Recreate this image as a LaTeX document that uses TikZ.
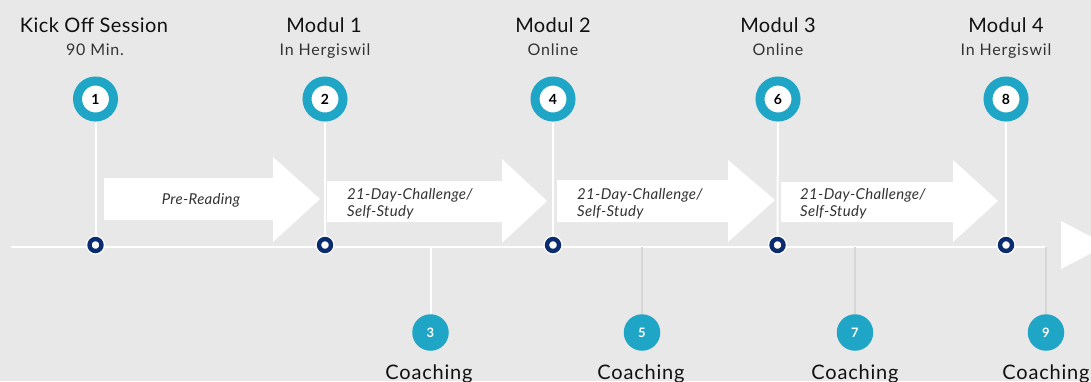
\documentclass[tikz,border=0pt]{standalone}
\usepackage{fontspec}
\setmainfont{Lato}
\definecolor{bgc}{HTML}{E8E8E8}
\definecolor{tealc}{HTML}{1FA5C5}
\definecolor{navyc}{HTML}{0B2C6E}
\definecolor{titlec}{HTML}{111111}
\definecolor{subc}{HTML}{333333}
\definecolor{stemc}{HTML}{D6D6D6}
\pgfdeclarelayer{bgl}
\pgfdeclarelayer{linesl}
\pgfsetlayers{bgl,linesl,main}
\begin{document}
\begin{tikzpicture}[x=1pt,y=-1pt,
  topcirc/.style={circle, draw=tealc, line width=9pt, fill=white, inner sep=0pt,
    minimum size=36pt, font=\fontsize{14}{14}\selectfont\bfseries, text=black},
  ringnode/.style={circle, draw=navyc, line width=4.4pt, fill=white, inner sep=0pt, minimum size=12pt},
  coachcirc/.style={circle, fill=tealc, inner sep=0pt, minimum size=36.5pt,
    font=\fontsize{13}{13}\selectfont\bfseries, text=white},
  title/.style={anchor=base, font=\fontsize{20}{20}\selectfont\addfontfeatures{LetterSpace=2}, text=titlec, inner sep=0pt},
  subtitle/.style={anchor=base, font=\fontsize{16}{16}\selectfont\addfontfeatures{LetterSpace=5}, text=subc, inner sep=0pt},
  coachlbl/.style={anchor=base, font=\fontsize{20}{20}\selectfont\addfontfeatures{LetterSpace=4}, text=titlec, inner sep=0pt},
  arrowtxt/.style={font=\fontsize{15}{17}\selectfont\itshape\addfontfeatures{LetterSpace=2}, text=subc, inner sep=0pt, align=left},
  whiteline/.style={draw=white, line width=2pt},
  stemline/.style={draw=stemc, line width=2pt},
  arrowfill/.style={fill=white}
]
\useasboundingbox (0,0) rectangle (1091,381);
\begin{pgfonlayer}{bgl}
\fill[bgc] (0,0) rectangle (1091,381);
\end{pgfonlayer}
\clip (0,0) rectangle (1091,381);

% titles
\node[title] (h1) at (94,32) {Kick Off Session};
\node[subtitle] (s1) at (95,55) {90 Min.};
\node[title] (h2) at (324,32) {Modul 1};
\node[subtitle] (s2) at (325,55) {In Hergiswil};
\node[title] (h4) at (553,32) {Modul 2};
\node[subtitle] (s4) at (553,55) {Online};
\node[title] (h6) at (778,32) {Modul 3};
\node[subtitle] (s6) at (778,55) {Online};
\node[title] (h8) at (1006,32) {Modul 4};
\node[subtitle] (s8) at (1006,55) {In Hergiswil};

% top circles
\node[topcirc] (t1) at (95.5,99) {1};
\node[topcirc] (t2) at (325,99) {2};
\node[topcirc] (t4) at (553,99) {4};
\node[topcirc] (t6) at (778,99) {6};
\node[topcirc] (t8) at (1006,99) {8};

% arrows
\fill[arrowfill] (104,178) -- (273,178) -- (273,157) -- (320,199) -- (273,242) -- (273,220) -- (104,220) -- cycle;
\fill[arrowfill] (327,181) -- (502,181) -- (502,159) -- (547,201) -- (502,243) -- (502,222) -- (327,222) -- cycle;
\fill[arrowfill] (557,180) -- (728,180) -- (728,160) -- (775,200) -- (728,242) -- (728,222) -- (557,222) -- cycle;
\fill[arrowfill] (781,182) -- (953,182) -- (953,160) -- (998,201) -- (953,242) -- (953,222) -- (781,222) -- cycle;
\fill[arrowfill] (1061,221) -- (1107,245) -- (1061,269) -- cycle;

\node[arrowtxt, anchor=base] (a1) at (201,204) {Pre-Reading};
\node[arrowtxt, anchor=base west] (a2) at (347,216) {21-Day-Challenge/\\Self-Study};
\node[arrowtxt, anchor=base west] (a3) at (577,216) {21-Day-Challenge/\\Self-Study};
\node[arrowtxt, anchor=base west] (a4) at (800,216) {21-Day-Challenge/\\Self-Study};

% rings on timeline
\foreach \n/\x in {1/95.5,2/325,4/553,6/777.5,8/1006}{
  \fill[white] (\x,245) circle (9.6pt);
  \node[ringnode] (r\n) at (\x,245) {};
}

% coaching
\coordinate (tlstart) at (11,247);
\coordinate (j3) at (430.5,247);
\coordinate (j5) at (642,247);
\coordinate (j7) at (855,247);
\coordinate (j9) at (1046,247);
\node[coachcirc] (c3) at (430.5,332.5) {3};
\node[coachcirc] (c5) at (642,332.5) {5};
\node[coachcirc] (c7) at (855,332.5) {7};
\node[coachcirc] (c9) at (1046,332.5) {9};
\node[coachlbl] (l3) at (429,379) {Coaching};
\node[coachlbl] (l5) at (641,379) {Coaching};
\node[coachlbl] (l7) at (855,379) {Coaching};
\node[coachlbl] (l9) at (1046,379) {Coaching};

\begin{pgfonlayer}{linesl}
\draw[whiteline] (tlstart) -- (j9);
\draw[whiteline] (t1) -- (r1);
\draw[whiteline] (t2) -- (r2);
\draw[whiteline] (t4) -- (r4);
\draw[whiteline] (t6) -- (r6);
\draw[whiteline] (t8) -- (r8);
\draw[whiteline] (j3) -- (c3);
\draw[stemline] (j5) -- (c5);
\draw[stemline] (j7) -- (c7);
\draw[stemline] (j9) -- (c9);
\end{pgfonlayer}
\end{tikzpicture}
\end{document}
